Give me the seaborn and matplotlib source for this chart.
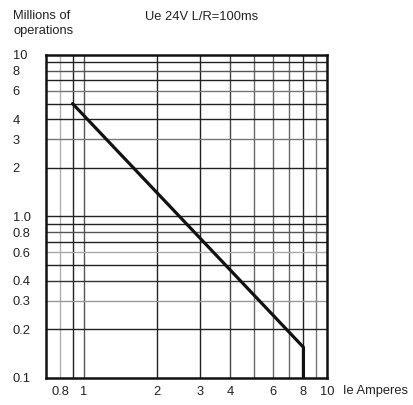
import matplotlib
matplotlib.use("Agg")
import matplotlib.pyplot as plt
import seaborn as sns
import pandas as pd
from matplotlib.ticker import FixedLocator, NullLocator

# Endurance curve: current (A) vs. millions of operations
current = [0.9, 8, 8]
operations = [5, 0.155, 0.1]

x_ticks = [0.8, 1, 2, 3, 4, 6, 8, 10]
x_tick_labels = ["0.8", "1", "2", "3", "4", "6", "8", "10"]
y_ticks = [0.1, 0.2, 0.3, 0.4, 0.6, 0.8, 1.0, 2, 3, 4, 6, 8, 10]
y_tick_labels = ["0.1", "0.2", "0.3", "0.4", "0.6", "0.8", "1.0", "2", "3", "4", "6", "8", "10"]

# grid lines (value, colour)
v_grid = [(0.8, "#b0b0b0"), (0.9, "#222222"), (1, "#555555"), (2, "#222222"),
          (3, "#222222"), (4, "#444444"), (5, "#666666"), (6, "#666666"),
          (7, "#666666"), (8, "#222222"), (9, "#777777")]
h_grid = [(0.2, "#222222"), (0.3, "#999999"), (0.4, "#333333"), (0.5, "#222222"),
          (0.6, "#aaaaaa"), (0.7, "#222222"), (0.8, "#555555"), (0.9, "#222222"),
          (1.0, "#222222"), (2, "#222222"), (3, "#777777"), (4, "#222222"),
          (5, "#222222"), (6, "#777777"), (7, "#222222"), (8, "#555555"),
          (9, "#222222")]

sns.set_theme(style="white")
plt.rcParams["font.family"] = ["Liberation Sans", "DejaVu Sans"]

FS = 9.3

fig = plt.figure(figsize=(4.13, 4.05), dpi=100)
ax = fig.add_axes([0.1114, 0.0667, 0.6804, 0.7975])
ax.set_xscale("log")
ax.set_yscale("log")
ax.set_xlim(0.7, 10)
ax.set_ylim(0.1, 10)

for v, c in v_grid:
    ax.axvline(v, color=c, lw=1.0, zorder=1)
for v, c in h_grid:
    ax.axhline(v, color=c, lw=1.0, zorder=1)

df = pd.DataFrame({"Ie": current, "ops": operations})
sns.lineplot(data=df, x="Ie", y="ops", sort=False, estimator=None,
             color="#111111", lw=2.3, ax=ax, zorder=3)

ax.xaxis.set_major_locator(FixedLocator(x_ticks))
ax.xaxis.set_minor_locator(NullLocator())
ax.set_xticklabels(x_tick_labels)
ax.yaxis.set_major_locator(FixedLocator(y_ticks))
ax.yaxis.set_minor_locator(NullLocator())
ax.set_yticklabels(y_tick_labels)
ax.tick_params(axis="both", length=0, labelsize=FS, colors="#222222")
ax.tick_params(axis="x", pad=6)
ax.tick_params(axis="y", pad=24)
for lbl in ax.get_yticklabels():
    lbl.set_horizontalalignment("left")

ax.set_xlabel("")
ax.set_ylabel("")
for s in ax.spines.values():
    s.set_visible(True)
    s.set_color("#111111")
    s.set_linewidth(1.8)

fig.text(13 / 413, 1 - 10 / 405, "Millions of\noperations", ha="left", va="top",
         fontsize=FS, color="#222222", linespacing=1.3)
fig.text(145 / 413, 1 - 17 / 405, "Ue 24V L/R=100ms", ha="left", va="center",
         fontsize=FS, color="#222222")
fig.text(343 / 413, 1 - 391 / 405, "Ie Amperes", ha="left", va="center",
         fontsize=FS, color="#222222")

fig.savefig("out.png", dpi=100)
